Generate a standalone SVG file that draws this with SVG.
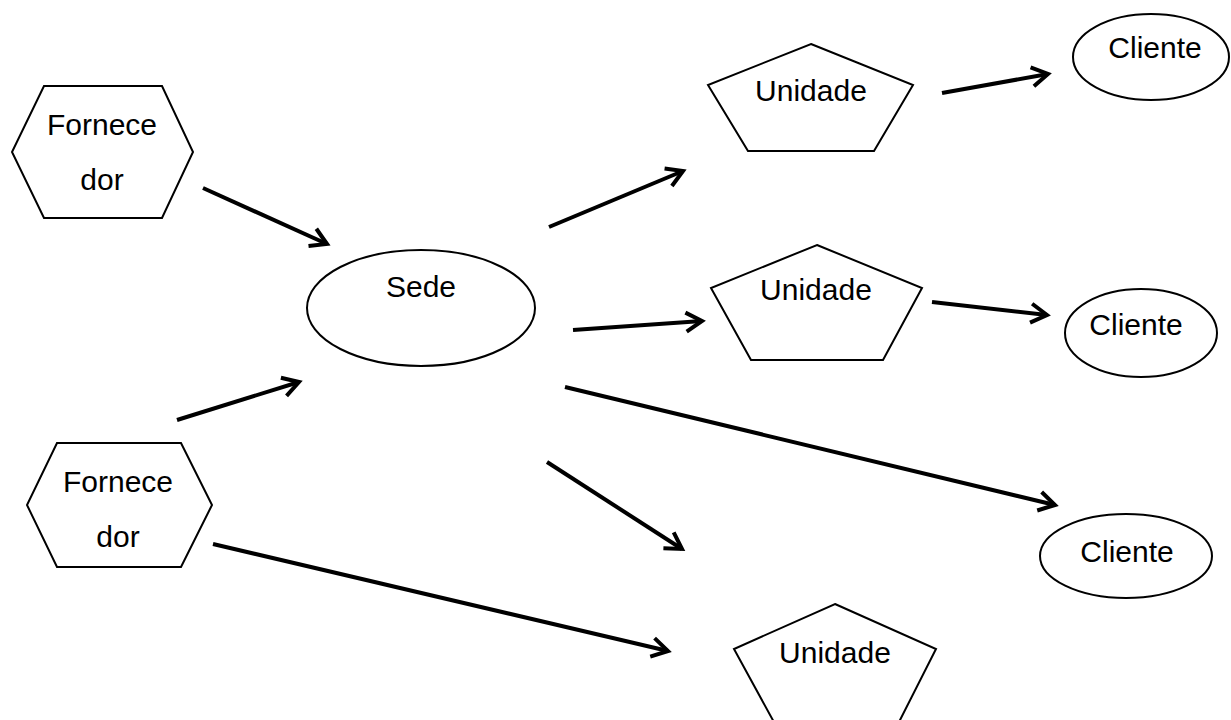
<svg xmlns="http://www.w3.org/2000/svg" width="1231" height="720" viewBox="0 0 1231 720">
<style>
.shape{fill:#fff;stroke:#000;stroke-width:2;stroke-linejoin:miter}
.lbl{font-family:"Liberation Sans",Arial,sans-serif;font-size:30px;fill:#000;text-anchor:middle}
.conn{stroke:#000;stroke-width:4;fill:none;marker-end:url(#arr)}
</style>
<defs>
<marker id="arr" markerUnits="userSpaceOnUse" markerWidth="40" markerHeight="40" refX="0" refY="0" viewBox="-20 -20 40 40" orient="auto" overflow="visible">
<path d="M-16,-9.5 L0,0 L-16,9.5" fill="none" stroke="#000" stroke-width="4" stroke-linejoin="miter"/>
</marker>
</defs>
<rect width="1231" height="720" fill="#fff"/>
<g id="connectors">
<line class="conn" x1="203" y1="188" x2="327" y2="244"/>
<line class="conn" x1="177" y1="420" x2="299" y2="382"/>
<line class="conn" x1="549" y1="227" x2="683" y2="171"/>
<line class="conn" x1="573" y1="330" x2="702" y2="321"/>
<line class="conn" x1="565" y1="387" x2="1055" y2="505"/>
<line class="conn" x1="547" y1="462" x2="682" y2="549"/>
<line class="conn" x1="213" y1="544" x2="668" y2="651"/>
<line class="conn" x1="942" y1="93" x2="1048" y2="74"/>
<line class="conn" x1="932" y1="302" x2="1047" y2="315"/>
</g>
<g id="fornecedor1">
<polygon class="shape" points="44,86 162,86 193,152 162,218 44,218 12,152"/>
<text class="lbl" x="102" y="135">Fornece</text>
<text class="lbl" x="102" y="190">dor</text>
</g>
<g id="fornecedor2">
<polygon class="shape" points="57,443 181,443 212,505 181,567 57,567 27,505"/>
<text class="lbl" x="118" y="492">Fornece</text>
<text class="lbl" x="118" y="547">dor</text>
</g>
<g id="sede">
<ellipse class="shape" cx="421" cy="308" rx="114" ry="58"/>
<text class="lbl" x="421" y="297">Sede</text>
</g>
<g id="unidade1">
<polygon class="shape" points="811,44 913,85 874,151 748,151 708,85"/>
<text class="lbl" x="811" y="101">Unidade</text>
</g>
<g id="unidade2">
<polygon class="shape" points="817,245 922,288 883,360 751,360 711,288"/>
<text class="lbl" x="816" y="300">Unidade</text>
</g>
<g id="unidade3">
<polygon class="shape" points="835,604 936,649 898,724 775,724 734,649"/>
<text class="lbl" x="835" y="663">Unidade</text>
</g>
<g id="cliente1">
<ellipse class="shape" cx="1151" cy="57" rx="78" ry="43"/>
<text class="lbl" x="1155" y="58">Cliente</text>
</g>
<g id="cliente2">
<ellipse class="shape" cx="1141" cy="333" rx="76" ry="44"/>
<text class="lbl" x="1136" y="335">Cliente</text>
</g>
<g id="cliente3">
<ellipse class="shape" cx="1126" cy="556" rx="86" ry="42"/>
<text class="lbl" x="1127" y="562">Cliente</text>
</g>
</svg>
